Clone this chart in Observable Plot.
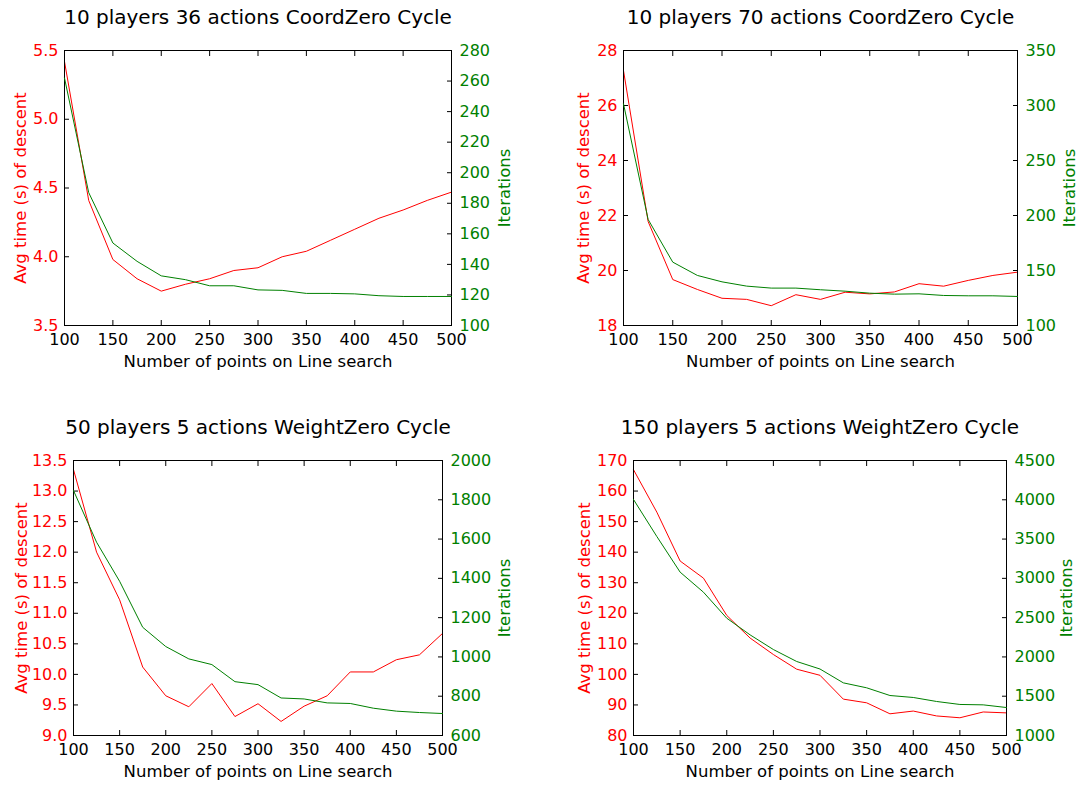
<!DOCTYPE html>
<html>
<head>
<meta charset="utf-8">
<script src="https://cdn.jsdelivr.net/npm/d3@7"></script>
<script src="https://cdn.jsdelivr.net/npm/@observablehq/plot@0.6"></script>
<style>
  body { margin: 0; background: #fff; }
  #fig { position: relative; width: 1078px; height: 785px; background: #fff; }
  #fig svg { position: absolute; left: 0; top: 0; }
</style>
</head>
<body>
<div id="fig"></div>
<script>
// ---------------- data ----------------
const xPoints = [100,125,150,175,200,225,250,275,300,325,350,375,400,425,450,475,500];
const xTicks = [100,150,200,250,300,350,400,450,500];

const titles = [
  "10 players 36 actions CoordZero Cycle",
  "10 players 70 actions CoordZero Cycle",
  "50 players 5 actions WeightZero Cycle",
  "150 players 5 actions WeightZero Cycle"
];
const xLabel = "Number of points on Line search";
const timeLabel = "Avg time (s) of descent";
const iterLabel = "Iterations";

// panel 1
const time1 = [5.42,4.41,3.98,3.84,3.75,3.80,3.84,3.90,3.92,4.00,4.04,4.12,4.20,4.28,4.34,4.41,4.47];
const iter1 = [262,187,154,142,132.5,130,126,126,123.3,123,121,121,120.7,119.5,119,119,119];
const timeTicks1 = [3.5,4.0,4.5,5.0,5.5];
const iterTicks1 = [100,120,140,160,180,200,220,240,260,280];

// panel 2
const time2 = [27.27,21.78,19.67,19.31,18.99,18.95,18.72,19.12,18.95,19.21,19.15,19.22,19.52,19.43,19.64,19.82,19.94];
const iter2 = [301.5,196.4,157.6,145.5,139.7,135.8,134,134,132.5,131.2,129.4,128.5,128.8,127.3,127,127,126.4];
const timeTicks2 = [18,20,22,24,26,28];
const iterTicks2 = [100,150,200,250,300,350];

// panel 3
const time3 = [13.35,12.0,11.22,10.12,9.65,9.47,9.85,9.31,9.52,9.23,9.48,9.65,10.04,10.04,10.24,10.32,10.67];
const iter3 = [1847,1584,1385,1151,1053,990,961,874,859,791,786,766,763,739,724,717,712];
const timeTicks3 = [9.0,9.5,10.0,10.5,11.0,11.5,12.0,12.5,13.0,13.5];
const iterTicks3 = [600,800,1000,1200,1400,1600,1800,2000];

// panel 4
const time4 = [167.0,153.1,137.1,131.5,119.3,111.9,106.5,101.7,99.7,91.9,90.7,87.1,88.0,86.4,85.8,87.7,87.4];
const iter4 = [4004,3533,3079,2824,2493,2281,2094,1942,1846,1670,1607,1509,1484,1433,1395,1390,1356];
const timeTicks4 = [80,90,100,110,120,130,140,150,160,170];
const iterTicks4 = [1000,1500,2000,2500,3000,3500,4000,4500];

// ---------------- layout ----------------
const W = 1078, H = 785;
const FONT = "'DejaVu Sans', sans-serif";
const RED = "#ff0000", GREEN = "#008000";

const panels = [
  {title: titles[0], time: time1, iter: iter1, tTicks: timeTicks1, iTicks: iterTicks1,
   tFmt: d3.format(".1f"), frame: [64, 451, 50, 325], lDx: -44, rDx: 53},
  {title: titles[1], time: time2, iter: iter2, tTicks: timeTicks2, iTicks: iterTicks2,
   tFmt: d3.format("d"), frame: [623, 1017, 50, 325], lDx: -40, rDx: 52},
  {title: titles[2], time: time3, iter: iter3, tTicks: timeTicks3, iTicks: iterTicks3,
   tFmt: d3.format(".1f"), frame: [73, 442, 460, 735], lDx: -52, rDx: 62},
  {title: titles[3], time: time4, iter: iter4, tTicks: timeTicks4, iTicks: iterTicks4,
   tFmt: d3.format("d"), frame: [633, 1006, 460, 735], lDx: -49, rDx: 60}
];

const fig = document.getElementById("fig");

function build(p) {
  const rows = xPoints.map((x, i) => ({x, time: p.time[i], iter: p.iter[i]}));
  const [L, R, T, B] = p.frame;
  const xDomain = [xTicks[0], xTicks[xTicks.length - 1]];
  const base = {
    width: W, height: H,
    marginLeft: L, marginRight: W - R, marginTop: T, marginBottom: H - B,
    style: {background: "transparent", fontFamily: FONT, fontSize: "16px", color: "black", overflow: "visible"}
  };
  const tDomain = [p.tTicks[0], p.tTicks[p.tTicks.length - 1]];
  const iDomain = [p.iTicks[0], p.iTicks[p.iTicks.length - 1]];

  const left = Plot.plot({
    ...base,
    x: {domain: xDomain},
    y: {domain: tDomain},
    marks: [
      Plot.axisX({ticks: xTicks, anchor: "bottom", tickSize: -5, tickPadding: 13, tickFormat: d => String(d),
                  label: null, stroke: "black", fill: "black", fontSize: 16}),
      Plot.axisX({ticks: xTicks, anchor: "top", tickSize: -5, tickFormat: () => "", label: null, stroke: "black"}),
      Plot.axisY({ticks: p.tTicks, anchor: "left", tickSize: -5, tickPadding: 11, tickFormat: p.tFmt,
                  label: null, stroke: "black", fill: RED, fontSize: 16}),
      Plot.lineY(rows, {x: "x", y: "time", stroke: RED, strokeWidth: 1}),
      Plot.frame({stroke: "black", strokeWidth: 1}),
      Plot.text([p.title], {frameAnchor: "top", dy: -33, text: d => d, fontSize: 20, fill: "black",
                            textAnchor: "middle", lineAnchor: "middle"}),
      Plot.text([xLabel], {frameAnchor: "bottom", dy: 36, text: d => d, fontSize: 16.5, fill: "black",
                           textAnchor: "middle", lineAnchor: "middle"}),
      Plot.text([timeLabel], {frameAnchor: "left", dx: p.lDx, rotate: -90, text: d => d, fontSize: 16.5,
                              fill: RED, textAnchor: "middle", lineAnchor: "middle"})
    ]
  });

  const right = Plot.plot({
    ...base,
    x: {domain: xDomain, axis: null},
    y: {domain: iDomain},
    marks: [
      Plot.axisY({ticks: p.iTicks, anchor: "right", tickSize: -5, tickPadding: 13, tickFormat: d3.format("d"),
                  label: null, stroke: "black", fill: GREEN, fontSize: 16}),
      Plot.lineY(rows, {x: "x", y: "iter", stroke: GREEN, strokeWidth: 1}),
      Plot.text([iterLabel], {frameAnchor: "right", dx: p.rDx, rotate: -90, text: d => d, fontSize: 16.5,
                              fill: GREEN, textAnchor: "middle", lineAnchor: "middle"})
    ]
  });
  fig.appendChild(left);
  fig.appendChild(right);
}

panels.forEach(build);
</script>
</body>
</html>
